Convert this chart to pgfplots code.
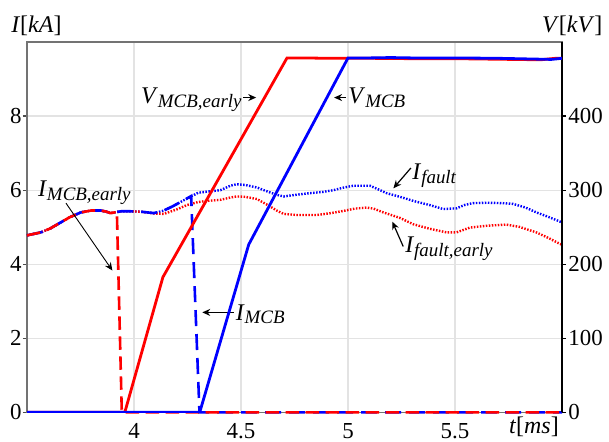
\documentclass[border=0pt]{standalone}
\usepackage{fontspec}
\setmainfont{Liberation Serif}
\setsansfont{Liberation Serif}
\usepackage{pgfplots}
\pgfplotsset{compat=1.18}
\usetikzlibrary{arrows.meta}
\newcommand{\lab}[2]{\textit{#1}\raisebox{-1.9pt}{\fontsize{9.5}{10}\selectfont\textit{#2}}}
\newcommand{\tkfont}{\rmfamily\upshape\fontsize{11.5}{13}\selectfont}
\begin{document}
\begin{tikzpicture}
\begin{axis}[
  width=267.5bp, height=185.2bp, scale only axis,
  xmin=3.5, xmax=6, ymin=0, ymax=10,
  xtick={4,4.5,5,5.5}, ytick={0,2,4,6,8},
  xticklabels={4,4.5,5,5.5}, yticklabels={0,2,4,6,8},
  xtick pos=bottom, ytick pos=left,
  tick align=outside, major tick length=2bp,
  x tick style={draw=none},
  y tick style={black!70, line width=0.6pt},
  grid=major, grid style={gray!22, line width=0.6pt},
  axis line style={black!55, line width=0.8pt},
  ticklabel style={font=\tkfont},
  yticklabel style={inner xsep=0.5pt},
  clip=false,
]
\coordinate (SW) at (rel axis cs:0,0);
\coordinate (NE) at (rel axis cs:1,1);
% I_fault (blue dotted)
\addplot[blue, line width=1.2bp, dash pattern=on 0.75bp off 0.75bp] coordinates {
(3.5,4.78)(3.565,4.86)(3.61,4.97)(3.658,5.13)(3.70,5.27)(3.752,5.40)(3.80,5.45)(3.845,5.45)(3.87,5.42)(3.89,5.38)(3.91,5.40)(3.94,5.43)(3.98,5.43)(4.03,5.42)(4.093,5.38)(4.14,5.45)(4.186,5.58)(4.23,5.72)(4.264,5.82)(4.30,5.93)(4.342,5.96)(4.404,6.00)(4.45,6.12)(4.48,6.16)(4.52,6.14)(4.575,6.07)(4.63,5.95)(4.67,5.87)(4.699,5.83)(4.75,5.87)(4.823,5.92)(4.88,5.95)(4.932,6.00)(4.98,6.07)(5.025,6.12)(5.103,6.12)(5.15,6.00)(5.18,5.92)(5.243,5.82)(5.305,5.71)(5.38,5.60)(5.445,5.49)(5.507,5.51)(5.545,5.60)(5.584,5.65)(5.65,5.66)(5.72,5.65)(5.771,5.63)(5.83,5.53)(5.88,5.40)(5.94,5.27)(6.0,5.13)
};
% I_fault,early (red dotted)
\addplot[red, line width=1.2bp, dash pattern=on 0.75bp off 0.75bp] coordinates {
(3.5,4.78)(3.565,4.86)(3.61,4.97)(3.658,5.13)(3.70,5.27)(3.752,5.40)(3.80,5.45)(3.845,5.45)(3.87,5.42)(3.89,5.38)(3.91,5.40)(3.94,5.43)(3.98,5.43)(4.03,5.42)(4.093,5.37)(4.14,5.36)(4.20,5.48)(4.249,5.60)(4.30,5.68)(4.342,5.71)(4.404,5.74)(4.45,5.80)(4.48,5.83)(4.52,5.82)(4.575,5.76)(4.63,5.58)(4.67,5.44)(4.699,5.36)(4.76,5.33)(4.855,5.33)(4.92,5.38)(4.979,5.44)(5.03,5.50)(5.088,5.53)(5.12,5.50)(5.165,5.40)(5.243,5.25)(5.305,5.08)(5.38,4.96)(5.46,4.86)(5.507,4.86)(5.57,4.99)(5.65,5.04)(5.74,5.07)(5.80,5.01)(5.88,4.86)(5.94,4.70)(5.99,4.55)(6.0,4.53)
};
% I_MCB (blue dashed)
\addplot[blue, line width=1.3bp, dash pattern=on 8bp off 4bp] coordinates {
(3.5,4.78)(3.565,4.86)(3.61,4.97)(3.658,5.13)(3.70,5.27)(3.752,5.40)(3.80,5.45)(3.845,5.45)(3.87,5.42)(3.89,5.38)(3.91,5.40)(3.94,5.43)(3.98,5.43)(4.03,5.42)(4.093,5.38)(4.14,5.45)(4.186,5.58)(4.23,5.72)(4.267,5.84)(4.306,0)(6.0,0)
};
% I_MCB,early (red dashed)
\addplot[red, line width=1.3bp, dash pattern=on 6.7bp off 3.3bp] coordinates {
(3.5,4.78)(3.565,4.86)(3.61,4.97)(3.658,5.13)(3.70,5.27)(3.752,5.40)(3.80,5.45)(3.845,5.45)(3.87,5.42)(3.89,5.38)(3.92,5.41)(3.943,0)(6.0,0)
};
% labels
\node[anchor=base west, inner sep=0, font=\fontsize{12}{14}\selectfont] at (axis cs:3.425,10.25) {\textit{I}[\textit{kA}]};
\node[anchor=base west, inner sep=0, font=\fontsize{12}{14}\selectfont] at (axis cs:5.905,10.25) {\textit{V}[\textit{kV}]};
\node[anchor=base west, inner sep=0, font=\fontsize{12}{14}\selectfont] at (axis cs:5.751,-0.56) {\textit{t}[\textit{ms}]};
\node[anchor=base west, inner sep=0, font=\fontsize{12}{14}\selectfont] at (axis cs:4.031,8.33) {\lab{V}{MCB,early}};
\draw[-{Stealth[length=4pt,width=3.5pt]}, line width=0.6pt] (axis cs:4.511,8.50) -- (axis cs:4.571,8.50);
\node[anchor=base west, inner sep=0, font=\fontsize{12}{14}\selectfont] at (axis cs:5.0,8.33) {\lab{V}{MCB}};
\draw[-{Stealth[length=4pt,width=3.5pt]}, line width=0.6pt] (axis cs:4.991,8.50) -- (axis cs:4.935,8.50);
\node[anchor=base west, inner sep=0, font=\fontsize{12}{14}\selectfont] at (axis cs:5.299,6.28) {\lab{I}{fault}};
\draw[-{Stealth[length=4pt,width=3.5pt]}, line width=0.6pt] (axis cs:5.294,6.60) -- (axis cs:5.212,6.05);
\node[anchor=base west, inner sep=0, font=\fontsize{12}{14}\selectfont] at (axis cs:5.266,4.31) {\lab{I}{fault,early}};
\draw[-{Stealth[length=4pt,width=3.5pt]}, line width=0.6pt] (axis cs:5.258,4.48) -- (axis cs:5.207,5.15);
\node[anchor=base west, inner sep=0, font=\fontsize{12}{14}\selectfont] at (axis cs:3.55,5.83) {\lab{I}{MCB,early}};
\draw[-{Stealth[length=4pt,width=3.5pt]}, line width=0.45pt] (axis cs:3.682,5.65) -- (axis cs:3.899,3.83);
\node[anchor=base west, inner sep=0, font=\fontsize{12}{14}\selectfont] at (axis cs:4.474,2.49) {\lab{I}{MCB}};
\draw[-{Stealth[length=4pt,width=3.5pt]}, line width=0.6pt] (axis cs:4.466,2.70) -- (axis cs:4.319,2.70);
\end{axis}
\begin{axis}[
  width=267.5bp, height=185.2bp, scale only axis,
  xmin=3.5, xmax=6, ymin=0, ymax=500,
  axis x line=none, axis y line*=right,
  ytick={0,100,200,300,400},
  yticklabels={0,100,200,300,400},
  tick align=outside, major tick length=2bp,
  y tick style={black, line width=0.6pt},
  axis line style={black, line width=0.8pt},
  ticklabel style={font=\tkfont},
  yticklabel style={inner xsep=1pt},
]
% V_MCB,early (red solid)
\addplot[red, line width=1.4bp] coordinates {
(3.5,0)(3.957,0)(4.135,182.5)(4.715,478.5)(4.8,478.5)(4.9,478)(5.1,478)(5.3,477.5)(5.5,477.5)(5.9,476)(5.97,478)(6.0,478)
};
% V_MCB (blue solid)
\addplot[blue, line width=1.4bp] coordinates {
(3.5,0)(4.307,0)(4.536,226.5)(5.0,478.5)(5.1,478.5)(5.2,479)(5.3,478.5)(5.5,478.5)(5.7,478)(5.95,476.5)(6.0,478)
};
\end{axis}
\pgfresetboundingbox
\path[use as bounding box] ([xshift=-13.5bp,yshift=-14.35bp]SW) rectangle ([xshift=23.5bp,yshift=21bp]NE);
\end{tikzpicture}
\end{document}
